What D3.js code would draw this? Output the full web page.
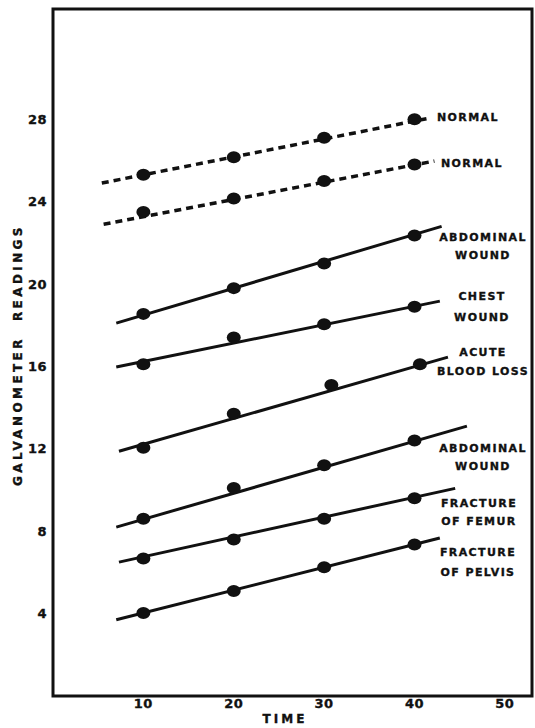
<!DOCTYPE html>
<html>
<head>
<meta charset="utf-8">
<script src="https://cdn.jsdelivr.net/npm/d3@7"></script>
<style>
  body { margin: 0; background: #fff; }
  text { font-family: "DejaVu Sans", sans-serif; font-weight: bold; fill: #111; stroke: #111; stroke-width: 0.35px; }
</style>
</head>
<body>
<div id="main"></div>
<script>
// Time ticks and galvanometer ticks
const xTicks = [10, 20, 30, 40, 50];
const yTicks = [4, 8, 12, 16, 20, 24, 28];

// Readings at each time (most series at 10, 20, 30, 40)
const times = [10, 20, 30, 40];
const bloodLossTimes = [10, 20, 30.8, 40.6];

const normal1 = [25.3, 26.15, 27.1, 28.0];
const normal2 = [23.5, 24.15, 25.0, 25.8];
const abdominal1 = [18.55, 19.8, 21.0, 22.35];
const chest = [16.1, 17.4, 18.05, 18.9];
const bloodLoss = [12.05, 13.7, 15.1, 16.1];
const abdominal2 = [8.6, 10.1, 11.2, 12.4];
const femur = [6.67, 7.6, 8.6, 9.6];
const pelvis = [4.03, 5.1, 6.25, 7.35];

// Hand-drawn trend lines: [time, reading] at each end
const normal1Line = [[5.4, 24.9], [41.6, 28.05]];
const normal2Line = [[5.6, 22.9], [42.2, 25.97]];
const abdominal1Line = [[7.0, 18.1], [43.0, 22.8]];
const chestLine = [[7.0, 15.97], [42.8, 19.17]];
const bloodLossLine = [[7.3, 11.88], [43.7, 16.45]];
const abdominal2Line = [[7.0, 8.2], [45.8, 13.1]];
const femurLine = [[7.3, 6.5], [44.5, 10.08]];
const pelvisLine = [[7.0, 3.7], [42.8, 7.67]];

const series = [
  { t: times, v: normal1, line: normal1Line, dashed: true },
  { t: times, v: normal2, line: normal2Line, dashed: true },
  { t: times, v: abdominal1, line: abdominal1Line },
  { t: times, v: chest, line: chestLine },
  { t: bloodLossTimes, v: bloodLoss, line: bloodLossLine },
  { t: times, v: abdominal2, line: abdominal2Line },
  { t: times, v: femur, line: femurLine },
  { t: times, v: pelvis, line: pelvisLine }
];

// Curve labels
const labels = [
  { lines: ['NORMAL'], x: 437, y: 121, anchor: 'start' },
  { lines: ['NORMAL'], x: 441, y: 167, anchor: 'start' },
  { lines: ['ABDOMINAL', 'WOUND'], x: 483, y: 241, anchor: 'middle' },
  { lines: ['CHEST', 'WOUND'], x: 482, y: 300, anchor: 'middle' },
  { lines: ['ACUTE', 'BLOOD LOSS'], x: 483, y: 356, anchor: 'middle' },
  { lines: ['ABDOMINAL', 'WOUND'], x: 483, y: 452, anchor: 'middle' },
  { lines: ['FRACTURE', 'OF FEMUR'], x: 479, y: 507, anchor: 'middle' },
  { lines: ['FRACTURE', 'OF PELVIS'], x: 478, y: 556, anchor: 'middle' }
];
const lineGap = [0, 0, 18, 21, 19, 18, 18, 20];

const W = 535, H = 728;

const svg = d3.select('#main').append('svg')
  .attr('width', W)
  .attr('height', H);

svg.append('rect').attr('width', W).attr('height', H).attr('fill', '#fff');

const x = d3.scaleLinear().domain([0, 53]).range([53, 532]);
const y = d3.scaleLinear().domain([0, 33.35]).range([696, 9]);

// Frame
svg.append('rect')
  .attr('x', x(0))
  .attr('y', y(33.35))
  .attr('width', x(53) - x(0))
  .attr('height', y(0) - y(33.35))
  .attr('fill', 'none')
  .attr('stroke', '#111')
  .attr('stroke-width', 3);

// Y tick labels
svg.selectAll('.ytick')
  .data(yTicks)
  .enter().append('text')
  .attr('class', 'ytick')
  .attr('x', 47)
  .attr('y', d => y(d))
  .attr('dy', '0.36em')
  .attr('text-anchor', 'end')
  .attr('font-size', 13)
  .attr('letter-spacing', 0.5)
  .text(d => d);

// X tick labels
svg.selectAll('.xtick')
  .data(xTicks)
  .enter().append('text')
  .attr('class', 'xtick')
  .attr('x', d => x(d))
  .attr('y', 708)
  .attr('text-anchor', 'middle')
  .attr('font-size', 13)
  .attr('letter-spacing', 0.5)
  .text(d => d);

// Axis titles
svg.append('text')
  .attr('x', 285)
  .attr('y', 723)
  .attr('text-anchor', 'middle')
  .attr('font-size', 12)
  .attr('letter-spacing', 3)
  .text('TIME');

svg.append('text')
  .attr('transform', 'translate(22,355) rotate(-90)')
  .attr('text-anchor', 'middle')
  .attr('font-size', 12)
  .attr('letter-spacing', 3.4)
  .attr('xml:space', 'preserve')
  .style('white-space', 'pre')
  .text('GALVANOMETER  READINGS');

// Trend lines
const lineGen = d3.line().x(d => x(d[0])).y(d => y(d[1]));

svg.selectAll('.trend')
  .data(series)
  .enter().append('path')
  .attr('class', 'trend')
  .attr('d', d => lineGen(d.line))
  .attr('fill', 'none')
  .attr('stroke', '#111')
  .attr('stroke-width', d => d.dashed ? 3.5 : 3)
  .attr('stroke-dasharray', d => d.dashed ? '7,5' : null);

// Data points
series.forEach(s => {
  svg.selectAll(null)
    .data(s.v.map((v, i) => [s.t[i], v]))
    .enter().append('ellipse')
    .attr('cx', d => x(d[0]))
    .attr('cy', d => y(d[1]))
    .attr('rx', 7)
    .attr('ry', 6)
    .attr('fill', '#111');
});

// Labels
labels.forEach((l, i) => {
  const t = svg.append('text')
    .attr('text-anchor', l.anchor)
    .attr('font-size', 11)
    .attr('letter-spacing', 1.4);
  l.lines.forEach((line, j) => {
    t.append('tspan')
      .attr('x', l.x)
      .attr('y', l.y + j * lineGap[i])
      .text(line);
  });
});
</script>
</body>
</html>
